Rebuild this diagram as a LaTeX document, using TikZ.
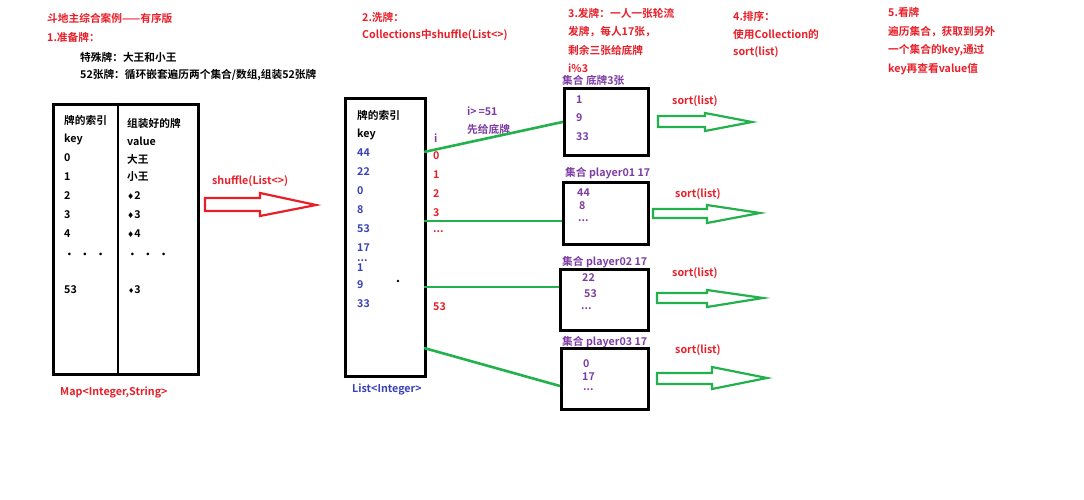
\documentclass[tikz,border=0pt]{standalone}
\usepackage{fontspec}
\setmainfont{Noto Sans CJK SC}[BoldFont={Noto Sans CJK SC Bold}]
\newfontfamily\dv{DejaVu Sans}
\definecolor{cred}{RGB}{232,30,40}
\definecolor{cpur}{RGB}{125,60,165}
\definecolor{cblue}{RGB}{55,65,185}
\definecolor{cgreen}{RGB}{34,177,76}
\begin{document}
\begin{tikzpicture}[x=1pt,y=-1pt,
  lbl/.style={anchor=west,inner sep=0pt,font=\bfseries\fontsize{10.7}{12}\selectfont},
  rt/.style={lbl,text=cred},
  pt/.style={lbl,text=cpur},
  bt/.style={lbl,text=cblue},
  dots/.style={text height=1.5pt,text depth=0pt},
  box/.style={draw,line width=2.8pt,inner sep=0pt,anchor=north west},
  gline/.style={draw=cgreen,line width=2.6pt},
  hollow/.style={line width=2.2pt,line join=miter}]
\useasboundingbox (0,0) rectangle (1084,500);
% ---- headings
\node[rt] (h1) at (47,18) {斗地主综合案例——有序版};
\node[rt] (h2) at (47,37) {1.准备牌：};
\node[lbl] (h3) at (80,57) {特殊牌：大王和小王};
\node[lbl] (h4) at (80,75) {52张牌：循环嵌套遍历两个集合/数组,组装52张牌};
\node[rt] (s1) at (362,17) {2.洗牌：};
\node[rt] (s2) at (362,35) {Collections中shuffle(List<>)};
\node[rt] (f1) at (568,13) {3.发牌：一人一张轮流};
\node[rt] (f2) at (568,32) {发牌，每人17张，};
\node[rt] (f3) at (568,50) {剩余三张给底牌};
\node[rt] (f4) at (568,68) {i\%3};
\node[rt] (p1) at (733,16) {4.排序：};
\node[rt] (p2) at (733,34) {使用Collection的};
\node[rt] (p3) at (733,52) {sort(list)};
\node[rt] (k1) at (888,12) {5.看牌};
\node[rt] (k2) at (888,32) {遍历集合，获取到另外};
\node[rt] (k3) at (888,50) {一个集合的key,通过};
\node[rt] (k4) at (888,69) {key再查看value值};
% ---- map table
\node[box,minimum width=145pt,minimum height=270pt] (map) at (52,103) {};
\coordinate (dvx) at (118,0);
\draw[line width=2.8pt] (dvx |- map.north) -- (dvx |- map.south);
\node[lbl] at (64,120) {牌的索引};
\node[lbl] at (64,139) {key};
\node[lbl] at (64,158) {0};
\node[lbl] at (64,177) {1};
\node[lbl] at (64,196) {2};
\node[lbl] at (64,215) {3};
\node[lbl] at (64,234) {4};
\node[lbl] at (64,256) {·\ \ ·\ \ ·};
\node[lbl] at (64,290) {53};
\node[lbl] at (127,123) {组装好的牌};
\node[lbl] at (127,141) {value};
\node[lbl] at (127,159) {大王};
\node[lbl] at (127,177) {小王};
\node[lbl] at (127,196) {{\dv\fontsize{8}{8}\selectfont ♦}2};
\node[lbl] at (127,215) {{\dv\fontsize{8}{8}\selectfont ♦}3};
\node[lbl] at (127,234) {{\dv\fontsize{8}{8}\selectfont ♦}4};
\node[lbl] at (127,256) {·\ \ ·\ \ ·};
\node[lbl] at (128,290) {{\dv\fontsize{7}{7}\selectfont ♦}3};
\node[rt] (mapl) at (60,392) {Map<Integer,String>};
% ---- shuffle arrow
\node[rt] (shl) at (212,181) {shuffle(List<>)};
\draw[hollow,draw=cred] (205,198) -- (260,198) -- (260,193) -- (316,205) -- (260,216) -- (260,211) -- (205,211) -- cycle;
% ---- list box
\node[box,minimum width=80pt,minimum height=278pt] (lst) at (344,97) {};
\node[lbl] at (357,115) {牌的索引};
\node[lbl] at (357,134) {key};
\node[bt] at (357,153) {44};
\node[bt] at (357,172) {22};
\node[bt] at (357,191) {0};
\node[bt] at (357,210) {8};
\node[bt] at (357,229) {53};
\node[bt] at (357,248) {17};
\node[bt,dots] at (357,261) {...};
\node[bt] at (357,268) {1};
\node[bt] at (357,285) {9};
\node[bt] at (357,304) {33};
\fill (398,281) circle (1.4pt);
\node[bt] (lstl) at (352,389) {List<Integer>};
% ---- index column
\node[pt] at (434,138) {i};
\node[rt] at (433,156) {0};
\node[rt] at (433,175) {1};
\node[rt] at (433,194) {2};
\node[rt] at (433,213) {3};
\node[rt] at (433,232) {...};
\node[rt] at (433,307) {53};
\node[pt] at (467,111) {i>\,=51};
\node[pt] at (467,129) {先给底牌};
% ---- labels of sets
\node[pt] (l1) at (562,80) {集合 底牌3张};
\node[pt] (l2) at (565,173) {集合 player01 17};
\node[pt] (l3) at (562,262) {集合 player02 17};
\node[pt] (l4) at (562,342) {集合 player03 17};
% ---- set boxes
\node[box,minimum width=84pt,minimum height=67pt] (b1) at (563,87) {};
\node[box,minimum width=85pt,minimum height=62pt] (b2) at (562,181) {};
\node[box,minimum width=88pt,minimum height=61pt] (b3) at (559,268) {};
\node[box,minimum width=87pt,minimum height=61pt] (b4) at (560,347) {};
\node[pt] at (576,100) {1};
\node[pt] at (576,118) {9};
\node[pt] at (576,137) {33};
\node[pt] at (577,193) {44};
\node[pt] at (579,206) {8};
\node[pt] at (578,221) {...};
\node[pt] at (582,278) {22};
\node[pt] at (584,294) {53};
\node[pt] at (581,309) {...};
\node[pt] at (583,364) {0};
\node[pt] at (582,377) {17};
\node[pt] at (583,390) {...};
% ---- green connectors
\coordinate (a1) at (424,152);
\coordinate (a2) at (424,221);
\coordinate (a3) at (424,287);
\coordinate (a4) at (424,348);
\coordinate (e2) at (562,221);
\coordinate (e3) at (559,287);
\coordinate (e4) at (560,386);
\draw[gline] (a1) -- (b1.west);
\draw[gline] (a2) -- (e2);
\draw[gline] (a3) -- (e3);
\draw[gline] (a4) -- (e4);
% ---- sort arrows
\node[rt] at (672,101) {sort(list)};
\node[rt] at (675,194) {sort(list)};
\node[rt] at (672,273) {sort(list)};
\node[rt] at (675,350) {sort(list)};
\draw[hollow,draw=cgreen] (658,116) -- (705,116) -- (705,113) -- (752,122) -- (705,131) -- (705,127) -- (658,127) -- cycle;
\draw[hollow,draw=cgreen] (653,209) -- (707,209) -- (707,205) -- (760,213) -- (707,223) -- (707,218) -- (653,218) -- cycle;
\draw[hollow,draw=cgreen] (657,293) -- (707,293) -- (707,290) -- (763,298) -- (707,307) -- (707,303) -- (657,303) -- cycle;
\draw[hollow,draw=cgreen] (657,373) -- (712,373) -- (712,367) -- (767,378) -- (712,389) -- (712,384) -- (657,384) -- cycle;
\end{tikzpicture}
\end{document}
